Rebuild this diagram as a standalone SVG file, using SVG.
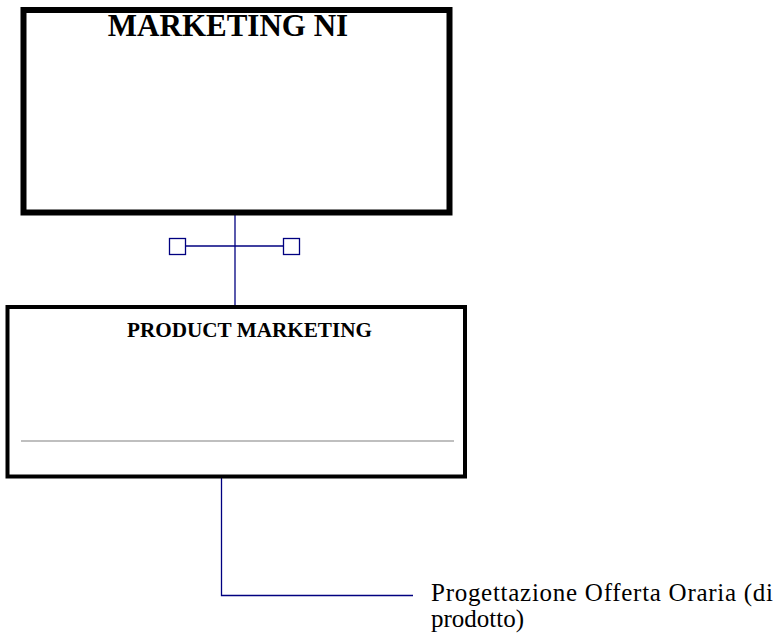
<svg xmlns="http://www.w3.org/2000/svg" width="778" height="643" viewBox="0 0 778 643">
<style>
.box{fill:#fff;stroke:#000}
.conn{fill:none;stroke:#000080;stroke-width:1.3}
.sq{fill:#fff;stroke:#000080;stroke-width:1.3}
.t{font-family:"Liberation Serif","Times New Roman",serif;fill:#000}
.b{font-weight:bold}
</style>
<rect width="778" height="643" fill="#fff"/>
<g id="connectors">
<path class="conn" d="M235,215 V305"/>
<path class="conn" d="M186,246 H283"/>
<rect class="sq" x="169.5" y="238.5" width="16" height="16"/>
<rect class="sq" x="283.5" y="238.5" width="16" height="16"/>
<path class="conn" d="M221.5,478 V595.5 H413"/>
</g>
<g id="node-marketing-ni">
<rect class="box" x="23.5" y="10" width="426" height="202.5" stroke-width="6"/>
<text class="t b" x="228" y="36" font-size="31" text-anchor="middle">MARKETING NI</text>
</g>
<g id="node-product-marketing">
<rect class="box" x="7.5" y="307" width="457.5" height="169.5" stroke-width="4"/>
<text class="t b" x="249.5" y="336.5" font-size="21.2" text-anchor="middle">PRODUCT MARKETING</text>
<line x1="21" y1="441" x2="454" y2="441" stroke="#808080" stroke-width="1.2"/>
</g>
<g id="node-progettazione">
<text class="t" x="431" y="601" font-size="25" textLength="342" lengthAdjust="spacing">Progettazione Offerta Oraria (di</text>
<text class="t" x="431" y="627" font-size="25">prodotto)</text>
</g>
</svg>
